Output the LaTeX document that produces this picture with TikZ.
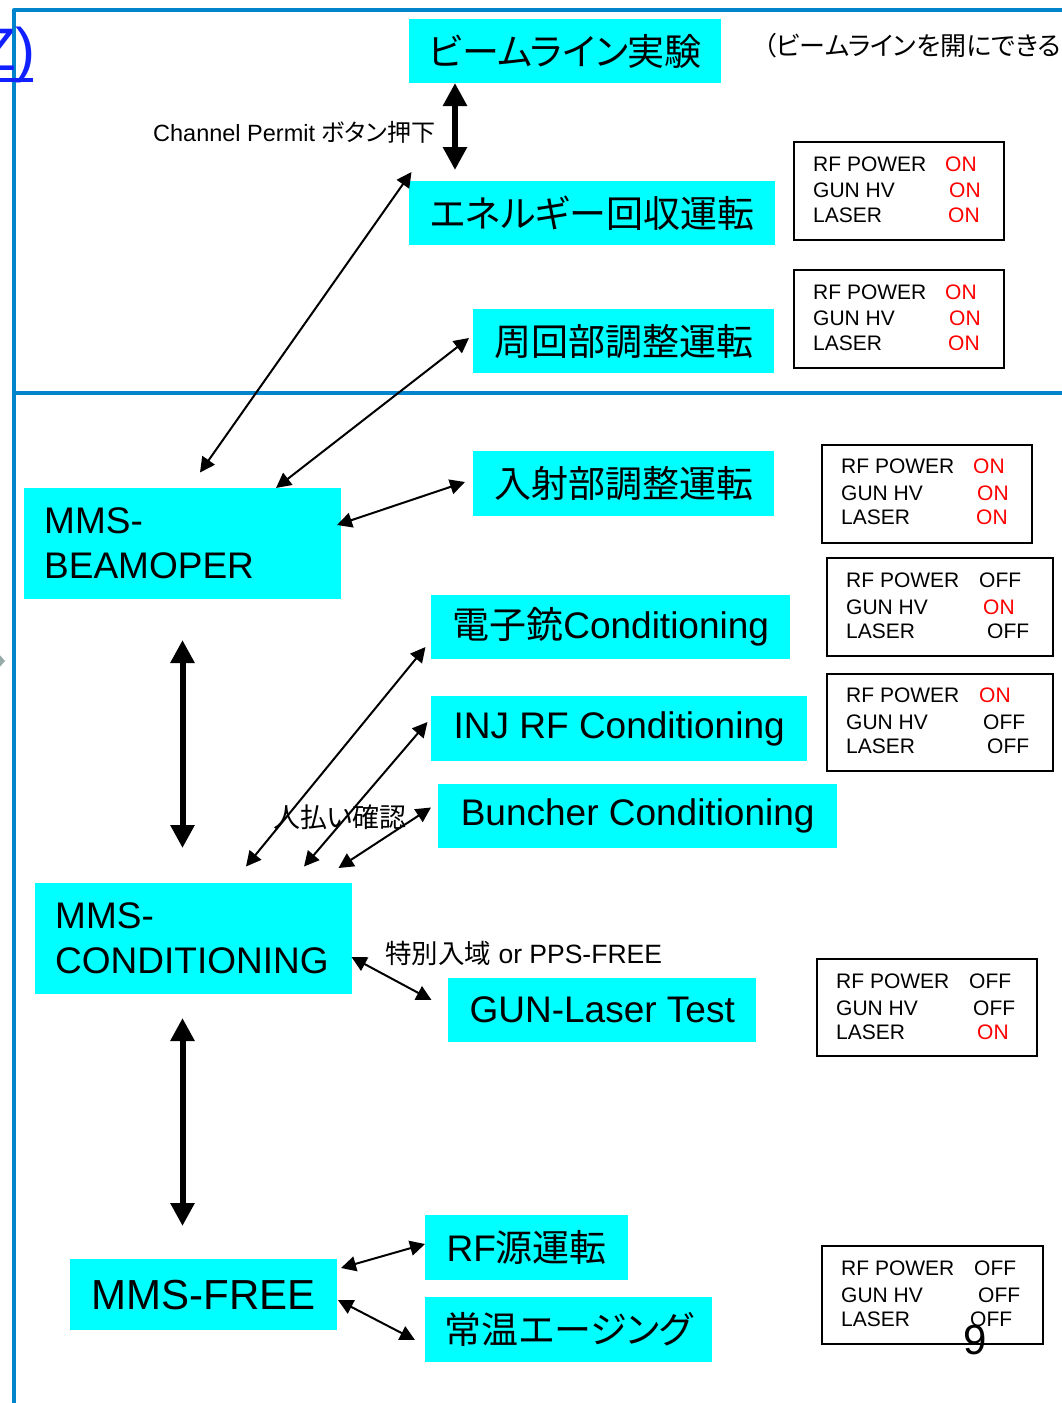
\documentclass[tikz,border=0pt]{standalone}
\usepackage{fontspec}
\setmainfont{Liberation Sans}
\newfontfamily\jp[RawFeature=+palt]{Noto Sans CJK JP}
\usetikzlibrary{arrows.meta,calc}
\definecolor{frameblue}{RGB}{0,132,204}
\definecolor{boxcyan}{RGB}{0,255,255}
\definecolor{linkblue}{RGB}{16,32,255}
\definecolor{ongray}{RGB}{150,170,170}
\newcommand\stlines[2]{%
  \foreach \ly/\lab/\dx/\val/\col in {#2}{%
    \node[stext] (#1l\ly) at ($(#1.north west)+(20,\ly)$) {\lab};
    \node[stext,text=\col] (#1v\ly) at ($(#1.north west)+(\dx,\ly)$) {\val};
  }}
\tikzset{
  cbox/.style={fill=boxcyan, draw=none, anchor=north west, inner sep=0pt,
    font=\fontsize{37}{44}\selectfont},
  mbox/.style={fill=boxcyan, draw=none, anchor=north west, inner ysep=0pt, inner xsep=20pt,
    align=left, text width=277pt, minimum height=111pt, font=\fontsize{37}{45}\selectfont},
  sbox/.style={draw=black, line width=2pt, anchor=north west, inner sep=0pt},
  stext/.style={anchor=west, inner sep=0pt, font=\fontsize{21}{25}\selectfont},
  lbl/.style={anchor=west, inner sep=0pt, text=black},
  thinarrow/.style={{Triangle[length=15pt,width=15pt]}-{Triangle[length=15pt,width=15pt]}, line width=2pt},
  thickarrow/.style={{Triangle[length=23pt,width=23pt]}-{Triangle[length=23pt,width=23pt]}, line width=6pt},
}
\begin{document}
\begin{tikzpicture}[x=1pt,y=-1pt]
\fill[white] (0,0) rectangle (1061,1403);
\useasboundingbox (0,0) rectangle (1061,1403);

% frame
\draw[frameblue, line width=4pt, line join=round] (14,1420) -- (14,10) -- (1075,10);
\draw[frameblue, line width=4pt] (14,393) -- (1075,393);

% clipped link text at top-left
\node[anchor=base east, inner sep=0pt, text=linkblue, font=\fontsize{60}{70}\selectfont] (lnk) at (36,70) {Z)};
\draw[linkblue, line width=4pt] (-5,80) -- (33,80);
\fill[ongray] (-2,653) -- (5,661) -- (-2,669) -- cycle;

% cyan boxes
\node[cbox, minimum width=312pt, minimum height=64pt] (bl) at (409,19) {\jp ビームライン実験};
\node[cbox, minimum width=366pt, minimum height=64pt] (er) at (409,181) {\jp エネルギー回収運転};
\node[cbox, minimum width=301pt, minimum height=64pt] (sh) at (473,309) {\jp 周回部調整運転};
\node[cbox, minimum width=301pt, minimum height=65pt] (ns) at (473,451) {\jp 入射部調整運転};
\node[cbox, minimum width=359pt, minimum height=64pt] (dg) at (431,595) {{\jp 電子銃}Conditioning};
\node[cbox, minimum width=376pt, minimum height=65pt] (inj) at (431,696) {INJ RF Conditioning};
\node[cbox, minimum width=399pt, minimum height=64pt] (bun) at (438,784) {Buncher Conditioning};
\node[cbox, minimum width=308pt, minimum height=64pt] (glt) at (448,978) {GUN-Laser Test};
\node[cbox, minimum width=203pt, minimum height=65pt] (rfs) at (425,1215) {RF{\jp 源運転}};
\node[cbox, minimum width=287pt, minimum height=65pt] (jou) at (425,1297) {\jp 常温エージング};

\node[mbox] (beam) at (24,488) {MMS-\\BEAMOPER};
\node[mbox] (cond) at (35,883) {MMS-\\CONDITIONING};
\node[cbox, minimum width=267pt, minimum height=71pt, font=\fontsize{42}{48}\selectfont] (free) at (70,1259) {MMS-FREE};

% status boxes
\node[sbox, minimum width=210pt, minimum height=98pt] (sA) at (793,141) {};
\stlines{sA}{23/RF POWER/152/ON/red, 49/GUN HV/156/ON/red, 74/LASER/155/ON/red}
\node[sbox, minimum width=210pt, minimum height=98pt] (sB) at (793,269) {};
\stlines{sB}{23/RF POWER/152/ON/red, 49/GUN HV/156/ON/red, 74/LASER/155/ON/red}
\node[sbox, minimum width=210pt, minimum height=98pt] (sC) at (821,444) {};
\stlines{sC}{22/RF POWER/152/ON/red, 49/GUN HV/156/ON/red, 73/LASER/155/ON/red}
\node[sbox, minimum width=226pt, minimum height=98pt] (sD) at (826,557) {};
\stlines{sD}{23/RF POWER/153/OFF/black, 50/GUN HV/157/ON/red, 74/LASER/161/OFF/black}
\node[sbox, minimum width=226pt, minimum height=97pt] (sE) at (826,673) {};
\stlines{sE}{22/RF POWER/153/ON/red, 49/GUN HV/157/OFF/black, 73/LASER/161/OFF/black}
\node[sbox, minimum width=220pt, minimum height=97pt] (sF) at (816,958) {};
\stlines{sF}{23/RF POWER/153/OFF/black, 50/GUN HV/157/OFF/black, 74/LASER/161/ON/red}
\node[sbox, minimum width=221pt, minimum height=98pt] (sG) at (821,1245) {};
\stlines{sG}{23/RF POWER/153/OFF/black, 50/GUN HV/157/OFF/black, 74/LASER/149/OFF/black}
\node[inner sep=0pt, font=\fontsize{42}{48}\selectfont] (pg) at (975,1340) {9};

% labels
\node[lbl, font=\fontsize{23.5}{28}\selectfont] (cp) at (153,132) {Channel Permit {\jp\fontsize{24}{28}\selectfont ボタン押下}};
\node[lbl, font=\fontsize{26}{30}\selectfont] (note) at (763,46) {\jp （ビームラインを開にできる};
\node[lbl, font=\fontsize{27}{30}\selectfont] (hito) at (273,817) {\jp 人払い確認};
\node[lbl, font=\fontsize{26.5}{30}\selectfont] (toku) at (385,953) {{\jp 特別入域} or PPS-FREE};

% arrow end points
\coordinate (t1a) at (455,83);    \coordinate (t1b) at (455,170);
\coordinate (t2a) at (182.5,640); \coordinate (t2b) at (182.5,848);
\coordinate (t3a) at (182.5,1018);\coordinate (t3b) at (182.5,1226);
\coordinate (a1a) at (200,472.5); \coordinate (a1b) at (411.5,172);
\coordinate (a2a) at (276,488);   \coordinate (a2b) at (469,338);
\coordinate (a3a) at (337,525);   \coordinate (a3b) at (465,482);
\coordinate (a4a) at (246,866.5); \coordinate (a4b) at (425.5,647);
\coordinate (a5a) at (304,866.5); \coordinate (a5b) at (427.5,722);
\coordinate (a6a) at (338.5,868); \coordinate (a6b) at (431,807.5);
\coordinate (a7a) at (351.5,957); \coordinate (a7b) at (431.5,1000);
\coordinate (a8a) at (341,1268);  \coordinate (a8b) at (425,1244);
\coordinate (a9a) at (338,1300);  \coordinate (a9b) at (415,1340);

\draw[thickarrow] (t1a) -- (t1b);
\draw[thickarrow] (t2a) -- (t2b);
\draw[thickarrow] (t3a) -- (t3b);
\foreach \i in {1,...,9}{\draw[thinarrow] (a\i a) -- (a\i b);}
\end{tikzpicture}
\end{document}
